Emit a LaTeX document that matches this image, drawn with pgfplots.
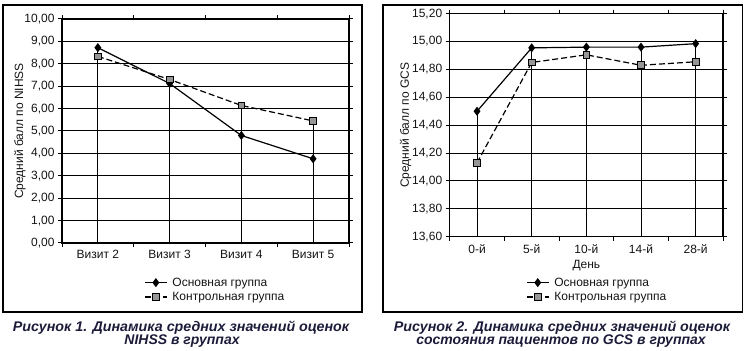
\documentclass[border=0pt]{standalone}
\usepackage{fontspec}
\setmainfont{Liberation Sans}
\usepackage{pgfplots}
\pgfplotsset{compat=1.18}
\definecolor{capcol}{RGB}{28,28,58}
\definecolor{mgray}{RGB}{150,150,150}
\definecolor{txt}{RGB}{20,20,20}
\newcommand{\lf}{\fontsize{12bp}{12bp}\selectfont}
\pgfplotsset{
 mystyle/.style={
  scale only axis,
  axis line style={line width=1.2bp, black},
  grid style={line width=1bp, black},
  ymajorgrids,
  tick align=outside,
  major tick length=4bp,
  minor tick length=4bp,
  major x tick style={draw=none},
  minor x tick style={line width=1bp, black},
  major y tick style={line width=1bp, black},
  tick label style={font=\fontsize{12bp}{14bp}\selectfont, text=txt},
  label style={font=\fontsize{12bp}{14bp}\selectfont, text=txt},
  /pgf/number format/assume math mode=true,
  yticklabel style={/pgf/number format/.cd, fixed, fixed zerofill, precision=2, use comma},
  clip mode=individual,
  legend style={draw=none, fill=none, text=txt, cells={anchor=west}, inner sep=0pt, anchor=north west, nodes={font=\lf}, row sep=0.5bp,
    /tikz/every odd column/.append style={column sep=3bp}},
  legend image code/.code={\draw[mark repeat=2,mark phase=2] plot coordinates {(0bp,0bp)(11bp,0bp)(22bp,0bp)};},
 },
 mainser/.style={black, line width=1.2bp, mark=diamond*, mark size=3.6bp, mark options={solid, fill=black}},
 ctrlser/.style={black, line width=1.2bp, dash pattern=on 6bp off 3bp, mark=square*, mark size=3.4bp, mark options={solid, fill=mgray, line width=0.8bp}},
 dropser/.style={ycomb, black, line width=1bp, forget plot, no marks},
}
\begin{document}
\begin{tikzpicture}
\useasboundingbox (0,0) rectangle (746bp,351bp);
\draw[line width=1.4bp] (3bp,39bp) rectangle (362bp,346bp);
\draw[line width=1.4bp] (383bp,39bp) rectangle (742.5bp,346bp);
\begin{axis}[mystyle, at={(62bp,108bp)}, anchor=south west, width=287bp, height=224bp,
  xmin=0.5, xmax=4.5, xtick={1,2,3,4}, xticklabels={Визит 2,Визит 3,Визит 4,Визит 5},
  minor xtick={0.5,1.5,2.5,3.5,4.5},
  ymin=0, ymax=10, ytick={0,1,2,3,4,5,6,7,8,9,10},
  ylabel={Средний балл по NIHSS}, ylabel shift=-8bp,
  legend style={at={(0.286,-0.145)}}]
\addplot[dropser] coordinates {(1,8.72)(2,7.30)(3,6.14)(4,5.45)};
\addplot[mainser] coordinates {(1,8.72)(2,7.12)(3,4.80)(4,3.76)};
\addplot[ctrlser] coordinates {(1,8.33)(2,7.30)(3,6.14)(4,5.45)};
\legend{{\lf Основная группа}, {\lf Контрольная группа}}
\end{axis}
\begin{axis}[mystyle, at={(449.7bp,114.3bp)}, anchor=south west, width=273.3bp, height=223bp,
  xmin=0.5, xmax=5.5, xtick={1,2,3,4,5}, xticklabels={0-й,5-й,10-й,14-й,28-й},
  minor xtick={0.5,1.5,2.5,3.5,4.5,5.5},
  ymin=13.6, ymax=15.2, ytick={13.6,13.8,14.0,14.2,14.4,14.6,14.8,15.0,15.2},
  ylabel={Средний балл по GCS}, ylabel shift=-6bp, xlabel={День},
  legend style={at={(0.279,-0.174)}}]
\addplot[dropser] coordinates {(1,14.50)(2,14.955)(3,14.96)(4,14.96)(5,14.985)};
\addplot[mainser] coordinates {(1,14.50)(2,14.955)(3,14.96)(4,14.96)(5,14.985)};
\addplot[ctrlser] coordinates {(1,14.13)(2,14.85)(3,14.905)(4,14.83)(5,14.855)};
\legend{{\lf Основная группа}, {\lf Контрольная группа}}
\end{axis}
\tikzset{capt/.style={font=\fontsize{14bp}{16bp}\selectfont\bfseries\itshape, text=capcol, transform shape}}
\node[capt, xscale=1.02] at (181bp,23.5bp) {Рисунок 1. Динамика средних значений оценок};
\node[capt] at (182bp,9.5bp) {NIHSS в группах};
\node[capt, xscale=1.02] at (562bp,23.5bp) {Рисунок 2. Динамика средних значений оценок};
\node[capt] at (561bp,9.5bp) {состояния пациентов по GCS в группах};
\end{tikzpicture}
\end{document}
